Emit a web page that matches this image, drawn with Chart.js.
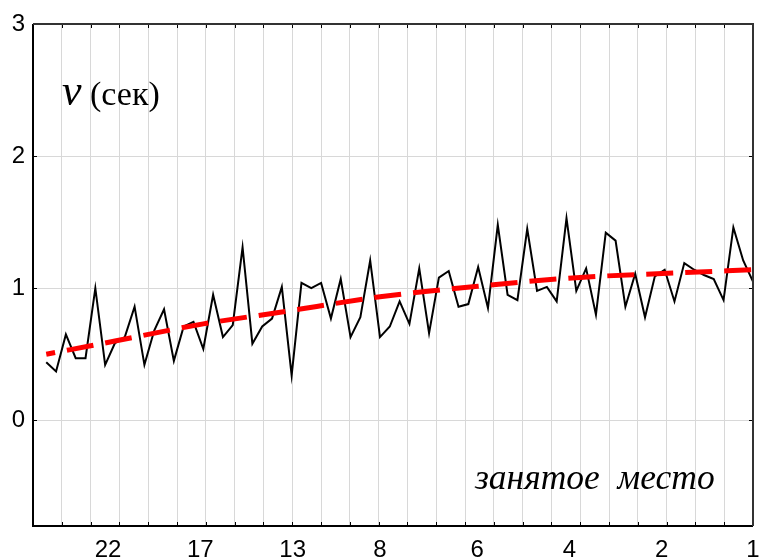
<!DOCTYPE html>
<html>
<head>
<meta charset="utf-8">
<script src="https://cdn.jsdelivr.net/npm/chart.js@4/dist/chart.umd.min.js"></script>
<style>
html,body{margin:0;padding:0;background:#fff;}
#wrap{width:759px;height:559px;}
</style>
</head>
<body>
<div id="wrap"><canvas id="c" width="759" height="559"></canvas></div>
<script>
// measured response times, in order of case (left -> right)
const values = [
  0.44, 0.37, 0.65, 0.47, 0.47, 1.00, 0.42, 0.585, 0.63, 0.86,
  0.42, 0.68, 0.84, 0.45, 0.71, 0.745, 0.54, 0.95, 0.63, 0.72,
  1.31, 0.58, 0.71, 0.77, 1.01, 0.34, 1.04, 1.00, 1.04, 0.77,
  1.07, 0.63, 0.78, 1.21, 0.63, 0.71, 0.90, 0.73, 1.15, 0.66,
  1.08, 1.13, 0.86, 0.88, 1.16, 0.85, 1.48, 0.95, 0.91, 1.45,
  0.98, 1.01, 0.90, 1.53, 0.98, 1.15, 0.80, 1.42, 1.36, 0.86,
  1.11, 0.78, 1.09, 1.14, 0.90, 1.19, 1.14, 1.10, 1.07, 0.91,
  1.46, 1.21, 1.05
];
// fitted trend curve at several cases
const trendCases  = [0, 7, 16, 24, 34, 44, 54, 64, 72];
const trendValues = [0.50, 0.60, 0.73, 0.82, 0.935, 1.015, 1.08, 1.115, 1.14];
// x-axis tick labels (place taken) and the case index they sit at
const xTickValues = [6.3, 15.7, 25.1, 34.0, 43.9, 53.3, 62.7, 72];
const xTickLabels = ['22', '17', '13', '8', '6', '4', '2', '1'];
const yTickValues = [0, 1, 2, 3];
const yLabelV = 'v';
const yLabelUnit = '(сек)';
const xTitle = 'занятое  место';

const lineData = values.map((v, i) => ({x: i, y: v}));
const trendData = trendCases.map((c, i) => ({x: c, y: trendValues[i]}));

const GRID = '#d8d8d8';

const framePlugin = {
  id: 'frame',
  afterDraw(chart) {
    const ctx = chart.ctx;
    const a = chart.chartArea;
    const xg = chart.scales.xg;
    const y = chart.scales.y;
    ctx.save();
    // inward tick marks
    ctx.strokeStyle = '#000';
    ctx.lineWidth = 1;
    xg.ticks.forEach(t => {
      const px = Math.round(xg.getPixelForValue(t.value)) + 0.5;
      ctx.beginPath();
      ctx.moveTo(px, a.bottom); ctx.lineTo(px, a.bottom - 4);
      ctx.moveTo(px, a.top); ctx.lineTo(px, a.top + 4);
      ctx.stroke();
    });
    y.ticks.forEach(t => {
      const py = Math.round(y.getPixelForValue(t.value)) + 0.5;
      ctx.beginPath();
      ctx.moveTo(a.left, py); ctx.lineTo(a.left + 4, py);
      ctx.moveTo(a.right, py); ctx.lineTo(a.right - 4, py);
      ctx.stroke();
    });
    // frame
    ctx.lineWidth = 2;
    ctx.strokeStyle = '#000';
    ctx.beginPath();
    ctx.moveTo(a.left, a.top); ctx.lineTo(a.left, a.bottom); ctx.lineTo(a.right, a.bottom);
    ctx.stroke();
    ctx.strokeStyle = '#333';
    ctx.beginPath();
    ctx.moveTo(a.left, a.top); ctx.lineTo(a.right, a.top); ctx.lineTo(a.right, a.bottom);
    ctx.stroke();
    // annotations
    ctx.fillStyle = '#000';
    ctx.textBaseline = 'alphabetic';
    ctx.textAlign = 'left';
    ctx.font = 'italic 44px "Liberation Serif"';
    ctx.fillText(yLabelV, a.left + 29, 105);
    ctx.font = '34px "Liberation Serif"';
    ctx.fillText(yLabelUnit, a.left + 57, 105);
    ctx.font = 'italic 35.5px "Liberation Serif"';
    ctx.fillText(xTitle, 475, 489);
    ctx.restore();
  }
};

new Chart(document.getElementById('c'), {
  type: 'line',
  data: {
    datasets: [
      {
        data: lineData,
        borderColor: '#000',
        borderWidth: 2,
        pointRadius: 0,
        tension: 0,
        fill: false,
        order: 2
      },
      {
        data: trendData,
        borderColor: '#ff0000',
        borderWidth: 5,
        borderDash: [27, 12],
        borderDashOffset: 18,
        borderCapStyle: 'butt',
        pointRadius: 0,
        cubicInterpolationMode: 'monotone',
        fill: false,
        order: 1
      }
    ]
  },
  options: {
    responsive: false,
    animation: false,
    events: [],
    layout: {padding: {top: 24, right: 6, left: 0, bottom: 0}},
    plugins: {legend: {display: false}, tooltip: {enabled: false}},
    scales: {
      x: {
        type: 'linear',
        position: 'bottom',
        min: -1.35,
        max: 72,
        afterBuildTicks(scale) { scale.ticks = xTickValues.map(v => ({value: v})); },
        afterFit(scale) {
          scale.height = 33;
          scale.paddingLeft = 0;
          scale.paddingRight = 0;
        },
        grid: {display: false, drawTicks: false},
        border: {display: false},
        ticks: {
          autoSkip: false,
          maxRotation: 0,
          padding: 10,
          color: '#000',
          font: {family: '"Liberation Sans", Arial', size: 24},
          callback: (v, i) => xTickLabels[i]
        }
      },
      xg: {
        type: 'linear',
        position: 'bottom',
        min: 0,
        max: 25,
        afterBuildTicks(scale) {
          const t = [];
          for (let i = 0; i <= 25; i++) t.push({value: i});
          scale.ticks = t;
        },
        afterFit(scale) { scale.height = 0; scale.paddingLeft = 0; scale.paddingRight = 0; },
        grid: {color: GRID, lineWidth: 1, drawTicks: false},
        border: {display: false},
        ticks: {display: false}
      },
      y: {
        type: 'linear',
        min: -0.8,
        max: 3,
        afterBuildTicks(scale) { scale.ticks = yTickValues.map(v => ({value: v})); },
        afterFit(scale) { scale.width = 33; scale.paddingTop = 0; scale.paddingBottom = 0; },
        grid: {color: GRID, lineWidth: 1, drawTicks: false},
        border: {display: false},
        ticks: {
          padding: 8,
          color: '#000',
          font: {family: '"Liberation Sans", Arial', size: 24},
          callback: v => String(v)
        }
      }
    }
  },
  plugins: [framePlugin]
});
</script>
</body>
</html>
